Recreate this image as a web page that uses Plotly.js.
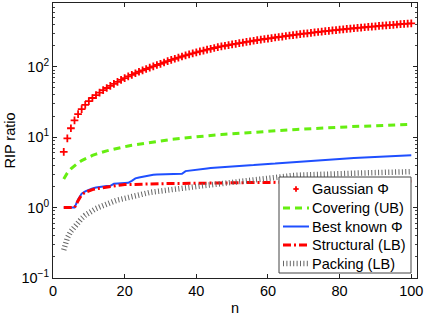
<!DOCTYPE html>
<html>
<head>
<meta charset="utf-8">
<script src="https://cdn.plot.ly/plotly-3.0.1.min.js"></script>
<style>html,body{margin:0;padding:0;background:#fff;}#chart{width:427px;height:316px;}</style>
</head>
<body>
<div id="chart"></div>
<script>
var n = [3,4,5,6,7,8,9,10,11,12,13,14,15,16,17,18,19,20,21,22,23,24,25,26,27,28,29,30,31,32,33,34,35,36,37,38,39,40,41,42,43,44,45,46,47,48,49,50,51,52,53,54,55,56,57,58,59,60,61,62,63,64,65,66,67,68,69,70,71,72,73,74,75,76,77,78,79,80,81,82,83,84,85,86,87,88,89,90,91,92,93,94,95,96,97,98,99,100];

var gaussian = [6.2,9.6,13.4,17.3,21.2,25.0,28.8,32.5,36.0,39.5,43.0,46.5,50.0,53.5,57.2,61.0,65.0,69.0,73.0,77.0,81.0,85.0,89.0,93.0,97.5,101.5,106.0,110.0,115.0,120.0,125.0,130.0,135.0,140.0,145.0,150.0,155.0,160.0,165.0,170.0,175.0,180.0,185.0,190.0,194.5,199.0,203.5,208.0,212.0,216.5,221.0,225.5,230.0,234.5,239.0,243.5,248.0,252.0,256.0,260.5,265.0,269.0,273.5,278.0,282.0,286.5,291.0,295.0,299.0,303.5,307.5,312.0,316.0,320.0,324.5,328.5,332.5,336.5,340.5,344.5,348.5,352.5,356.5,360.5,364.5,368.5,372.5,376.0,380.0,384.0,387.5,391.5,395.0,399.0,402.5,406.0,410.0,413.5,417.0];

var covering = [2.55,3.1,3.55,3.95,4.3,4.65,4.95,5.25,5.5,5.75,6.0,6.2,6.4,6.6,6.8,7.0,7.15,7.35,7.5,7.7,7.85,8.0,8.15,8.3,8.45,8.6,8.75,8.9,9.0,9.15,9.3,9.4,9.55,9.65,9.8,9.9,10.0,10.15,10.25,10.35,10.5,10.6,10.7,10.8,10.9,11.0,11.1,11.2,11.3,11.4,11.5,11.6,11.7,11.8,11.9,12.0,12.1,12.2,12.25,12.35,12.45,12.55,12.6,12.7,12.8,12.9,12.95,13.05,13.15,13.2,13.3,13.4,13.45,13.55,13.6,13.7,13.8,13.85,13.95,14.0,14.1,14.15,14.25,14.3,14.4,14.45,14.55,14.6,14.65,14.75,14.8,14.9,14.95,15.0,15.05,15.1,15.15,15.2];

var bestKnown = [1.0,1.0,1.0,1.0,1.3,1.58,1.7,1.8,1.87,1.93,1.97,2.0,2.02,2.04,2.18,2.2,2.21,2.23,2.25,2.4,2.6,2.68,2.75,2.82,2.88,2.92,2.95,2.97,2.98,2.99,3.0,3.0,3.0,3.02,3.3,3.36,3.42,3.48,3.52,3.56,3.6,3.64,3.68,3.72,3.76,3.8,3.84,3.87,3.9,3.93,3.96,3.98,4.0,4.02,4.04,4.06,4.08,4.1,4.16,4.22,4.27,4.31,4.35,4.39,4.43,4.47,4.51,4.55,4.59,4.63,4.67,4.71,4.75,4.79,4.83,4.87,4.9,4.93,4.96,4.99,5.02,5.05,5.08,5.11,5.14,5.17,5.2,5.23,5.26,5.29,5.32,5.35,5.38,5.41,5.44,5.47,5.5,5.52];

var structural = [1.0,1.0,1.0,1.0,1.25,1.52,1.65,1.73,1.8,1.85,1.89,1.92,1.95,1.98,2.02,2.06,2.1,2.12,2.13,2.14,2.15,2.15,2.16,2.16,2.17,2.17,2.18,2.18,2.19,2.19,2.2,2.2,2.2,2.21,2.21,2.21,2.22,2.22,2.22,2.23,2.23,2.23,2.24,2.24,2.24,2.25,2.25,2.25,2.25,2.26,2.26,2.26,2.26,2.27,2.27,2.27,2.27,2.28,2.28,2.28,2.28,2.29,2.29,2.29,2.29,2.3,2.3,2.3,2.3,2.31,2.31,2.31,2.31,2.32,2.32,2.32,2.32,2.33,2.33,2.33,2.33,2.34,2.34,2.34,2.34,2.35,2.35,2.35,2.35,2.36,2.36,2.36,2.36,2.37,2.37,2.37,2.37,2.38];

var packing = [0.25,0.37,0.46,0.54,0.62,0.7,0.78,0.85,0.91,0.97,1.02,1.08,1.13,1.18,1.23,1.28,1.32,1.36,1.41,1.45,1.5,1.54,1.58,1.61,1.64,1.67,1.7,1.72,1.75,1.77,1.8,1.82,1.85,1.87,1.9,1.93,1.96,1.99,2.02,2.05,2.08,2.12,2.15,2.18,2.21,2.25,2.28,2.31,2.35,2.38,2.41,2.45,2.48,2.52,2.55,2.59,2.62,2.66,2.7,2.74,2.77,2.8,2.82,2.84,2.86,2.88,2.9,2.92,2.94,2.96,2.97,2.98,2.99,3.0,3.01,3.02,3.03,3.04,3.05,3.06,3.07,3.08,3.09,3.1,3.11,3.12,3.13,3.14,3.15,3.16,3.17,3.18,3.19,3.2,3.21,3.22,3.23,3.24];

var seriesNames = ['Gaussian \u03A6','Covering (UB)','Best known \u03A6','Structural (LB)','Packing (LB)'];
var xTickVals = [0,20,40,60,80,100];
var yTickVals = [0.1,1,10,100];
var yTickText = ['10<sup>\u22121</sup>','10<sup>0</sup>','10<sup>1</sup>','10<sup>2</sup>'];

var FF = 'Liberation Sans, Arial, sans-serif';

var styles = [
  {mode:'markers', marker:{symbol:'cross-thin-open', size:5.5, color:'#ff0000', line:{color:'#ff0000', width:1.8}}},
  {mode:'lines', line:{color:'#66ee11', width:3, dash:'7px,5px'}},
  {mode:'lines', line:{color:'#1f4fff', width:2}},
  {mode:'lines', line:{color:'#ff0000', width:3, dash:'8px,3px,2px,3px'}},
  {mode:'lines', line:{color:'#666666', width:5.5, dash:'1px,2.4px'}}
];
var seriesData = [gaussian, covering, bestKnown, structural, packing];

var traces = seriesData.map(function(vals, i){
  var t = {x:n, y:vals, name:seriesNames[i], type:'scatter', mode:styles[i].mode, showlegend:false};
  if(styles[i].marker) t.marker = styles[i].marker;
  if(styles[i].line) t.line = styles[i].line;
  return t;
});

// legend drawn in paper coordinates (layout decoration)
var M = {l:53, r:10, t:3, b:38};
var W = 427, H = 316;
var PW = W - M.l - M.r, PH = H - M.t - M.b;
function px(x){ return (x - M.l) / PW; }
function py(y){ return 1 - (y - M.t) / PH; }

var shapes = [];
var annotations = [];
shapes.push({type:'rect', xref:'paper', yref:'paper', x0:px(279), x1:px(411), y0:py(273), y1:py(177),
             fillcolor:'#ffffff', line:{color:'#444', width:1}, layer:'above'});
var rowY = [189, 208, 226.5, 245, 263.5];
for (var i = 0; i < 5; i++) {
  var yy = rowY[i];
  if (i === 0) {
    shapes.push({type:'line', xref:'paper', yref:'paper', x0:px(293.3), x1:px(298.7), y0:py(yy), y1:py(yy),
                 line:{color:'#ff0000', width:1.8}, layer:'above'});
    shapes.push({type:'line', xref:'paper', yref:'paper', x0:px(296), x1:px(296), y0:py(yy-2.7), y1:py(yy+2.7),
                 line:{color:'#ff0000', width:1.8}, layer:'above'});
  } else {
    shapes.push({type:'line', xref:'paper', yref:'paper', x0:px(283), x1:px(309), y0:py(yy), y1:py(yy),
                 line:styles[i].line, layer:'above'});
  }
  annotations.push({xref:'paper', yref:'paper', x:px(309.5), y:py(yy), xanchor:'left', yanchor:'middle',
                    text:seriesNames[i], showarrow:false, font:{family:FF, size:14.5, color:'#000'}});
}

var layout = {
  width:W, height:H,
  margin:{l:M.l, r:M.r, t:M.t, b:M.b, pad:0},
  paper_bgcolor:'#fff', plot_bgcolor:'#fff',
  font:{family:FF, size:14.5, color:'#000'},
  showlegend:false,
  shapes:shapes,
  annotations:annotations,
  xaxis:{range:[0,101.6], tickvals:xTickVals, ticktext:xTickVals.map(String),
         ticks:'inside', ticklen:4, tickcolor:'#222', showline:true, linecolor:'#222', linewidth:1,
         mirror:'allticks', showgrid:false, zeroline:false,
         tickfont:{family:FF, size:14.5},
         title:{text:'n', standoff:4, font:{family:FF, size:14.5}}},
  yaxis:{type:'log', range:[-1,2.906], tickvals:yTickVals, ticktext:yTickText,
         ticks:'inside', ticklen:4, tickcolor:'#222', showline:true, linecolor:'#222', linewidth:1,
         mirror:'allticks', showgrid:false, zeroline:false,
         minor:{dtick:'D1', ticks:'inside', ticklen:2, tickcolor:'#444', showgrid:false},
         tickfont:{family:FF, size:14.5},
         title:{text:'RIP ratio', standoff:2, font:{family:FF, size:14.5}}}
};

Plotly.newPlot('chart', traces, layout, {displayModeBar:false, staticPlot:true});
</script>
</body>
</html>
